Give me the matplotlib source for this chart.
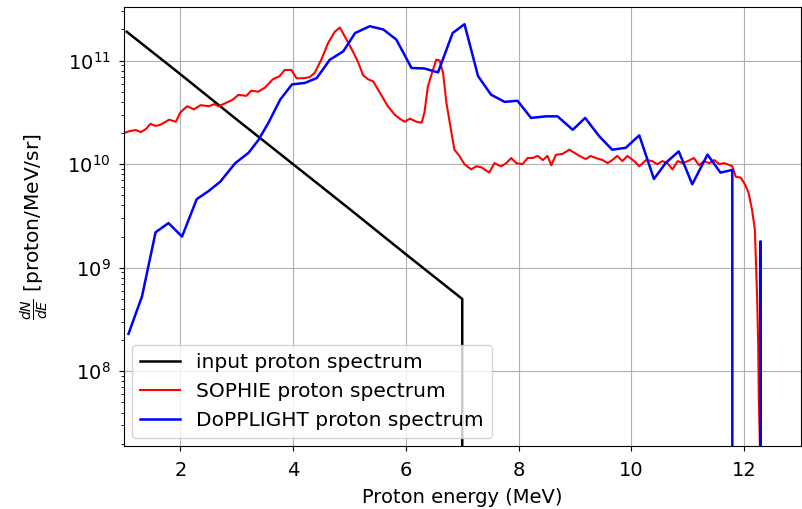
import matplotlib
matplotlib.use("Agg")
import matplotlib.pyplot as plt

# input proton spectrum (black)
input_E = [1.05, 2.0, 3.0, 4.0, 5.0, 6.0, 7.0, 7.0]
input_N = [1.9e11, 7.4e10, 2.7e10, 1.0e10, 3.7e9, 1.35e9, 5.0e8, 0.0]

# SOPHIE proton spectrum (red)
sophie_E = [1.00, 1.10, 1.21, 1.30, 1.39, 1.47, 1.56, 1.64, 1.71, 1.80, 1.92, 2.00,
            2.12, 2.24, 2.36, 2.51, 2.60, 2.68, 2.80, 2.92, 3.03, 3.17, 3.26, 3.38,
            3.50, 3.64, 3.76, 3.85, 3.97, 4.06, 4.18, 4.29, 4.38, 4.50, 4.62, 4.74,
            4.83, 4.92, 5.04, 5.15, 5.24, 5.33, 5.42, 5.54, 5.68, 5.80, 5.89, 5.98,
            6.07, 6.19, 6.28, 6.33, 6.39, 6.48, 6.54, 6.60, 6.66, 6.72, 6.81, 6.86,
            6.95, 7.04, 7.16, 7.25, 7.34, 7.42, 7.48, 7.57, 7.69, 7.78, 7.87, 7.96,
            8.07, 8.16, 8.25, 8.34, 8.43, 8.51, 8.58, 8.66, 8.78, 8.90, 8.99, 9.08,
            9.19, 9.28, 9.37, 9.49, 9.58, 9.66, 9.75, 9.84, 9.93, 10.05, 10.14, 10.26,
            10.37, 10.46, 10.55, 10.64, 10.73, 10.82, 10.91, 11.00, 11.11, 11.20,
            11.29, 11.38, 11.47, 11.56, 11.64, 11.70, 11.79, 11.85, 11.94, 12.02,
            12.08, 12.14, 12.19, 12.21, 12.23, 12.25, 12.26, 12.28, 12.30]
sophie_logN = [10.30, 10.32, 10.33, 10.31, 10.34, 10.39, 10.37, 10.38, 10.40, 10.43, 10.41, 10.50,
               10.56, 10.53, 10.57, 10.56, 10.58, 10.56, 10.59, 10.62, 10.67, 10.66, 10.71, 10.70,
               10.74, 10.82, 10.85, 10.91, 10.91, 10.83, 10.83, 10.84, 10.88, 11.01, 11.17, 11.28,
               11.32, 11.23, 11.11, 10.99, 10.86, 10.82, 10.80, 10.69, 10.56, 10.48, 10.44, 10.41,
               10.44, 10.41, 10.40, 10.50, 10.75, 10.91, 11.01, 11.00, 10.88, 10.59, 10.30, 10.14,
               10.08, 10.00, 9.95, 9.98, 9.97, 9.94, 9.92, 10.01, 9.98, 10.01, 10.06, 10.01,
               10.00, 10.06, 10.06, 10.08, 10.04, 10.08, 9.99, 10.09, 10.10, 10.14, 10.11, 10.08,
               10.05, 10.08, 10.06, 10.04, 10.01, 10.04, 10.08, 10.03, 10.08, 10.03, 9.98, 10.04,
               10.03, 10.00, 10.03, 10.01, 9.95, 10.03, 10.01, 10.03, 10.06, 9.99,
               10.03, 10.01, 10.04, 10.00, 10.01, 10.00, 9.98, 9.88, 9.87, 9.80,
               9.72, 9.56, 9.37, 9.05, 8.72, 8.24, 7.76, 7.28, 6.50]
sophie_N = [10 ** v for v in sophie_logN]

# DoPPLIGHT proton spectrum (blue)
dop_E = [1.08, 1.32, 1.56, 1.79, 2.03, 2.29, 2.50, 2.71, 2.97, 3.21, 3.38, 3.56,
         3.77, 3.98, 4.21, 4.42, 4.65, 4.89, 5.10, 5.36, 5.60, 5.83, 6.10, 6.33,
         6.57, 6.83, 7.04, 7.28, 7.51, 7.75, 7.98, 8.22, 8.49, 8.69, 8.96, 9.18,
         9.43, 9.66, 9.90, 10.14, 10.40, 10.61, 10.84, 11.08, 11.35, 11.58, 11.79,
         12.04, 12.29, 12.54]
dop_N = [2.3e8, 5.3e8, 2.2e9, 2.7e9, 2.0e9, 4.6e9, 5.5e9, 6.8e9, 1.02e10, 1.29e10, 1.7e10, 2.5e10,
         4.2e10, 5.9e10, 6.1e10, 6.8e10, 1.02e11, 1.23e11, 1.85e11, 2.15e11, 2.0e11, 1.6e11, 8.5e10, 8.4e10,
         7.7e10, 1.85e11, 2.25e11, 7.1e10, 4.7e10, 4.0e10, 4.1e10, 2.8e10, 2.9e10, 2.9e10, 2.15e10, 2.8e10,
         1.86e10, 1.38e10, 1.44e10, 1.9e10, 7.2e9, 1.03e10, 1.33e10, 6.4e9, 1.24e10, 8.3e9, 8.8e9,
         0.0, 1.8e9, 0.0]

fig = plt.figure(figsize=(8.03, 5.09), dpi=100)
ax = fig.add_axes([0.1544, 0.1238, 0.8425, 0.8625])
ax.plot(input_E, input_N, color="k", lw=1.8, label="input proton spectrum")
ax.plot(sophie_E, sophie_N, color="r", lw=1.5, label="SOPHIE proton spectrum")
ax.plot(dop_E, dop_N, color="b", lw=1.8, label="DoPPLIGHT proton spectrum")
ax.set_yscale("log", nonpositive="clip")
ax.set_xlim(1, 13)
ax.set_ylim(1.9e7, 3.3e11)
ax.grid(True, color="#b0b0b0", lw=0.8)
ax.tick_params(labelsize=14)
ax.tick_params(axis="x", pad=7)
ax.tick_params(axis="y", pad=6)
ax.set_xlabel("Proton energy (MeV)", fontsize=14, labelpad=6)
ax.set_ylabel(r"$\frac{dN}{dE}$ [proton/MeV/sr]", fontsize=14.5, labelpad=12)
ax.legend(loc="lower left", fontsize=14.5, borderaxespad=0.4, handlelength=2.0)
fig.savefig("out.png", dpi=100)
